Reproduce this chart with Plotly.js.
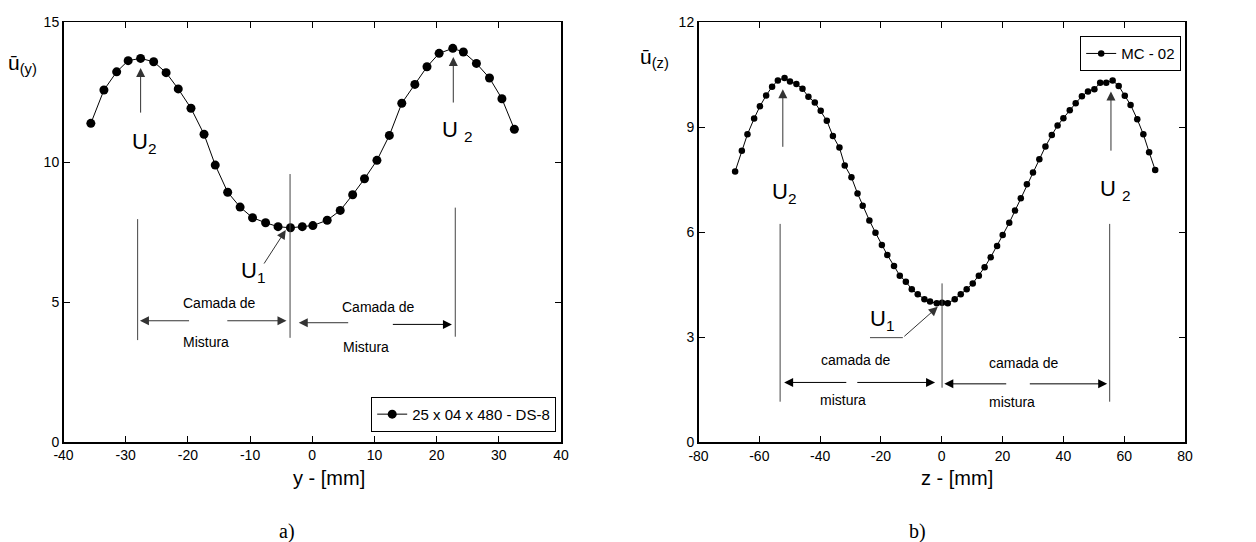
<!DOCTYPE html>
<html>
<head>
<meta charset="utf-8">
<script src="https://cdn.plot.ly/plotly-3.0.1.min.js"></script>
<style>html,body{margin:0;padding:0;background:#fff;}#chart{width:1256px;height:542px;}</style>
</head>
<body>
<div id="chart"></div>
<script>
// ---- data (a) ----
var yPos = [-35.6,-33.5,-31.45,-29.6,-27.6,-25.5,-23.5,-21.55,-19.5,-17.4,-15.6,-13.6,-11.6,-9.6,-7.5,-5.5,-3.5,-1.6,0.1,2.4,4.5,6.5,8.4,10.4,12.4,14.4,16.5,18.45,20.4,22.6,24.3,26.4,28.5,30.5,32.5];
var uY = [11.38,12.57,13.22,13.62,13.70,13.58,13.19,12.61,11.92,10.99,9.89,8.92,8.39,8.01,7.83,7.69,7.65,7.69,7.73,7.92,8.27,8.83,9.40,10.06,10.95,12.10,12.77,13.40,13.88,14.06,13.93,13.52,13.0,12.26,11.17];
var nameA = "25 x 04 x 480 - DS-8";
// ---- data (b) ----
var zPos = [-67.95,-65.75,-63.9,-61.7,-59.8,-57.75,-55.8,-53.9,-51.7,-49.9,-47.8,-45.8,-43.85,-41.75,-39.8,-37.8,-35.8,-33.65,-31.9,-29.7,-27.7,-26.0,-23.8,-21.8,-19.7,-17.9,-15.7,-13.8,-11.8,-9.86,-7.9,-5.7,-3.85,-1.64,0.1,1.97,4.27,6.25,8.2,10.2,12.2,14.1,16.1,18.2,20.05,22.2,24.1,26.0,28.0,30.0,32.1,34.1,36.2,38.1,40.0,42.1,44.05,46.1,48.1,50.2,52.1,54.1,56.2,58.2,60.2,62.1,64.3,66.3,68.2,70.2];
var uZ = [7.74,8.33,8.80,9.25,9.60,9.91,10.16,10.34,10.41,10.31,10.24,10.10,9.87,9.71,9.47,9.19,8.75,8.42,7.91,7.57,7.11,6.76,6.34,5.99,5.64,5.35,5.04,4.76,4.59,4.37,4.23,4.09,4.02,3.97,3.99,3.97,4.09,4.23,4.37,4.54,4.76,5.0,5.29,5.61,5.92,6.27,6.62,6.97,7.37,7.71,8.09,8.45,8.78,9.05,9.26,9.49,9.69,9.89,10.02,10.09,10.27,10.27,10.34,10.18,9.90,9.64,9.23,8.80,8.29,7.78];
var nameB = "MC - 02";
// ---- ticks ----
var xTicksA = [-40,-30,-20,-10,0,10,20,30,40];
var yTicksA = [0,5,10,15];
var xTicksB = [-80,-60,-40,-20,0,20,40,60,80];
var yTicksB = [0,3,6,9,12];

var FONT = "Liberation Sans, Arial, Helvetica, sans-serif";

var traces = [
  {x: yPos, y: uY, type: 'scatter', mode: 'lines+markers', name: nameA,
   xaxis: 'x', yaxis: 'y', legend: 'legend',
   line: {color: '#000', width: 1}, marker: {color: '#000', size: 9}},
  {x: zPos, y: uZ, type: 'scatter', mode: 'lines+markers', name: nameB,
   xaxis: 'x2', yaxis: 'y2', legend: 'legend2',
   line: {color: '#000', width: 1}, marker: {color: '#000', size: 6.5}}
];

function ax(range, ticks, dom, anchor) {
  return {range: range, tickvals: ticks, ticktext: ticks.map(String), domain: dom, anchor: anchor,
    showline: true, mirror: 'ticks', linecolor: '#000', linewidth: 1.5,
    ticks: 'inside', ticklen: 6, tickwidth: 1, tickcolor: '#000',
    showgrid: false, zeroline: false, fixedrange: true,
    tickfont: {family: FONT, size: 14, color: '#000'}};
}

var GREY = '#444';
function vline(xr, yr, x, y0, y1) {
  return {type: 'line', xref: xr, yref: yr, x0: x, x1: x, y0: y0, y1: y1, line: {color: GREY, width: 1}};
}
function hline(xr, yr, x0, x1, y) {
  return {type: 'line', xref: xr, yref: yr, x0: x0, x1: x1, y0: y, y1: y, line: {color: GREY, width: 1}};
}
function arrow(xr, yr, tx, ty, fx, fy, col) {
  return {xref: xr, yref: yr, axref: xr, ayref: yr, x: tx, y: ty, ax: fx, ay: fy, text: '',
    showarrow: true, arrowhead: 2, arrowsize: 1.8, arrowwidth: 1, arrowcolor: col || '#333', standoff: 0};
}
function txt(xr, yr, x, y, t, size, fam) {
  return {xref: xr, yref: yr, x: x, y: y, text: t, showarrow: false, xanchor: 'center', yanchor: 'middle',
    font: {family: fam || FONT, size: size, color: '#000'}};
}

var shapes = [
  // (a)
  vline('x','y', -3.57, 3.72, 9.57),
  vline('x','y', -28.08, 3.64, 7.96),
  vline('x','y', 23.0, 3.76, 8.37),
  // (b)
  vline('x2','y2', 0.1, 1.56, 4.54),
  vline('x2','y2', -53.16, 1.16, 6.24),
  vline('x2','y2', 55.23, 1.16, 6.24),
  hline('x2','y2', -23.6, -12.8, 2.99)
];

var annotations = [
  // (a)
  arrow('x','y', -27.6, 13.36, -27.6, 11.71),
  arrow('x','y', 22.68, 13.75, 22.68, 12.07),
  arrow('x','y', -4.26, 7.57, -7.9, 6.32),
  arrow('x','y', -27.71, 4.33, -19.57, 4.33),
  arrow('x','y', -4.14, 4.33, -13.9, 4.33),
  arrow('x','y', -2.17, 4.26, 6.02, 4.26),
  arrow('x','y', 22.46, 4.20, 12.72, 4.20, '#000'),
  txt('x','y', -27.0, 10.68, 'U<sub>2</sub>', 22),
  txt('x','y', 23.4, 11.1, 'U <sub>2</sub>', 22),
  txt('x','y', -9.5, 6.07, 'U<sub>1</sub>', 22),
  txt('x','y', -14.97, 4.95, 'Camada de', 14),
  txt('x','y', -17.1, 3.56, 'Mistura', 14),
  txt('x','y', 10.63, 4.83, 'Camada de', 14),
  txt('x','y', 8.6, 3.40, 'Mistura', 14),
  // (b)
  arrow('x2','y2', -52.27, 10.09, -52.27, 8.40),
  arrow('x2','y2', 55.65, 10.02, 55.65, 8.29),
  arrow('x2','y2', -1.31, 3.87, -12.8, 2.99),
  arrow('x2','y2', -51.84, 1.71, -30.9, 1.71, '#000'),
  arrow('x2','y2', -2.2, 1.71, -28.27, 1.71, '#000'),
  arrow('x2','y2', 0.85, 1.67, 21.7, 1.67, '#000'),
  arrow('x2','y2', 54.4, 1.67, 28.47, 1.67, '#000'),
  txt('x2','y2', -51.8, 7.12, 'U<sub>2</sub>', 22),
  txt('x2','y2', 57.0, 7.21, 'U <sub>2</sub>', 22),
  txt('x2','y2', -19.6, 3.49, 'U<sub>1</sub>', 22),
  txt('x2','y2', -28.5, 2.35, 'camada de', 14),
  txt('x2','y2', -32.35, 1.21, 'mistura', 14),
  txt('x2','y2', 26.8, 2.26, 'camada de', 14),
  txt('x2','y2', 23.0, 1.16, 'mistura', 14),
  // axis titles
  txt('paper','paper', 328.7/1256, (542-478.3)/542, 'y - [mm]', 20),
  txt('paper','paper', 956.7/1256, (542-478.3)/542, 'z - [mm]', 20),
  txt('paper','paper', 22/1256, (542-64)/542, 'ū<sub>(y)</sub>', 21),
  txt('paper','paper', 654/1256, (542-58)/542, 'ū<sub>(z)</sub>', 21),
  // captions
  txt('paper','paper', 286.5/1256, (542-531)/542, 'a)', 20, 'Liberation Serif, Times New Roman, serif'),
  txt('paper','paper', 917.3/1256, (542-531)/542, 'b)', 20, 'Liberation Serif, Times New Roman, serif')
];

var layout = {
  width: 1256, height: 542,
  margin: {l: 0, r: 0, t: 0, b: 0},
  paper_bgcolor: '#fff', plot_bgcolor: '#fff',
  font: {family: FONT, color: '#000'},
  xaxis: ax([-40, 40], xTicksA, [63.5/1256, 561/1256], 'y'),
  yaxis: ax([0, 15], yTicksA, [(542-442)/542, (542-22)/542], 'x'),
  xaxis2: ax([-80, 80], xTicksB, [698.5/1256, 1185/1256], 'y2'),
  yaxis2: ax([0, 12], yTicksB, [(542-442.3)/542, (542-22.3)/542], 'x2'),
  showlegend: true,
  legend: {x: 556/1256, xanchor: 'right', y: (542-431.7)/542, yanchor: 'bottom',
    bgcolor: '#fff', bordercolor: '#000', borderwidth: 1.2, font: {family: FONT, size: 15, color: '#000'},
    tracegroupgap: 0},
  legend2: {x: 1181/1256, xanchor: 'right', y: (542-36)/542, yanchor: 'top',
    bgcolor: '#fff', bordercolor: '#000', borderwidth: 1.2, font: {family: FONT, size: 15, color: '#000'},
    tracegroupgap: 0},
  shapes: shapes,
  annotations: annotations
};

Plotly.newPlot('chart', traces, layout, {staticPlot: true, displayModeBar: false});
</script>
</body>
</html>
